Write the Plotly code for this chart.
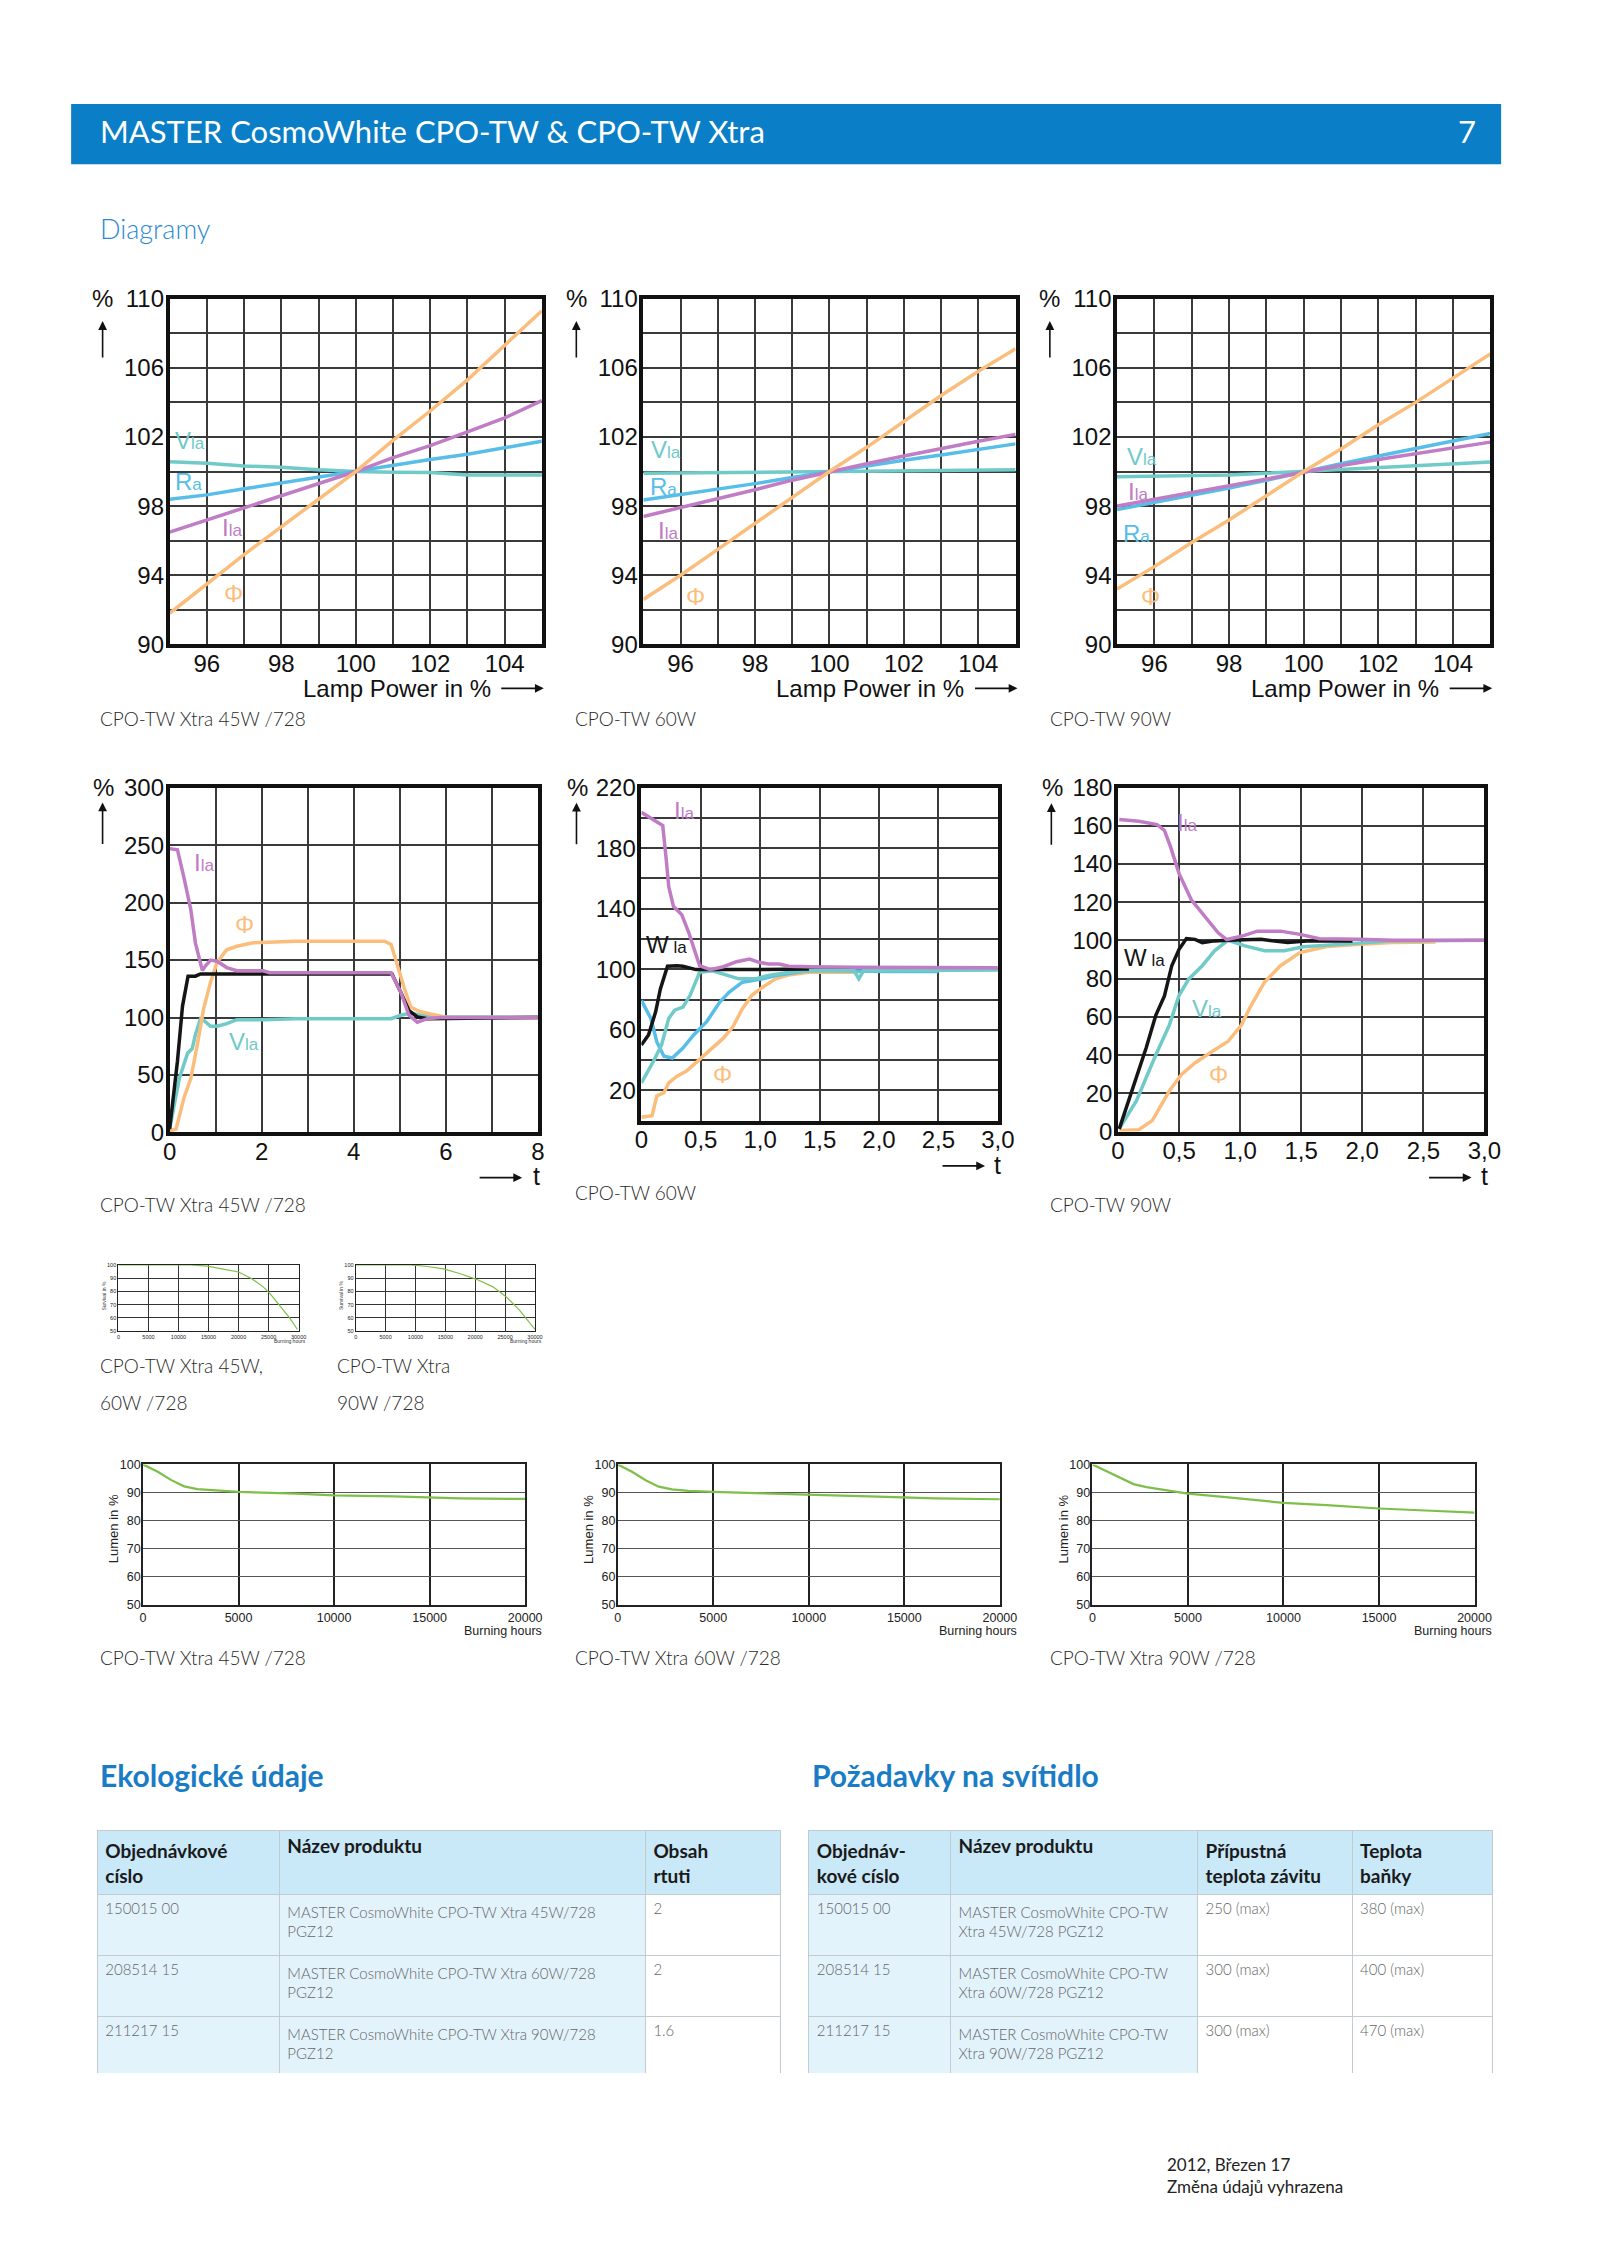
import plotly.graph_objects as go

# page is 1600 x 2263; the html body keeps its default 8px margin,
# so the figure itself is 1584 x 2247 placed at (8, 8)
PAGE_W, PAGE_H = 1600, 2263
OFF = 8
W, H = PAGE_W - 2 * OFF, PAGE_H - 2 * OFF

# ---------------- DATA ----------------
# Row 1: characteristic vs lamp power (%)
LP_X = [95, 96, 97, 98, 99, 100, 101, 102, 103, 104, 105]
LP45_PHI = [91.8, 93.5, 95.2, 96.8, 98.4, 100, 101.8, 103.5, 105.3, 107.3, 109.3]
LP45_ILA = [96.5, 97.2, 97.9, 98.6, 99.3, 100, 100.8, 101.5, 102.3, 103.1, 104.1]
LP45_RA = [98.4, 98.65, 99.0, 99.35, 99.7, 100, 100.35, 100.7, 101.0, 101.35, 101.75]
LP45_VLA = [100.57, 100.48, 100.32, 100.25, 100.1, 100, 99.96, 99.94, 99.8, 99.8, 99.8]

LP60_PHI = [92.6, 94.0, 95.5, 97.0, 98.5, 100, 101.4, 102.9, 104.4, 105.8, 107.1]
LP60_ILA = [97.4, 97.9, 98.45, 98.95, 99.5, 100, 100.45, 100.9, 101.35, 101.75, 102.15]
LP60_RA = [98.35, 98.65, 99.0, 99.3, 99.65, 100, 100.3, 100.65, 100.95, 101.25, 101.6]
LP60_VLA = [99.9, 99.92, 99.94, 99.96, 99.98, 100, 100.02, 100.04, 100.06, 100.08, 100.1]

LP90_PHI = [93.2, 94.5, 95.9, 97.2, 98.6, 100, 101.3, 102.7, 104.0, 105.4, 106.8]
LP90_ILA = [98.0, 98.4, 98.8, 99.2, 99.6, 100, 100.35, 100.7, 101.05, 101.4, 101.7]
LP90_RA = [97.8, 98.2, 98.6, 99.05, 99.5, 100, 100.45, 100.9, 101.35, 101.8, 102.2]
LP90_VLA = [99.7, 99.72, 99.75, 99.8, 99.9, 100, 100.1, 100.2, 100.3, 100.45, 100.55]

# Row 2: run-up behaviour vs time t
RU45_W_T = [0, 0.17, 0.28, 0.4, 0.56, 0.67, 2.0, 3.0, 4.0, 4.83, 5.02, 5.2, 5.38, 5.6, 8]
RU45_W = [3, 62, 110, 136, 136, 138, 138, 138, 138, 138, 122, 106, 100.5, 99, 100]
RU45_I_T = [0, 0.17, 0.31, 0.46, 0.56, 0.64, 0.71, 0.78, 0.89, 1.03, 1.24, 1.46, 2.03, 2.17,
            4.81, 5.02, 5.2, 5.38, 5.6, 5.88, 8]
RU45_I = [247, 246, 222, 194, 165, 151, 141, 145, 150, 149, 143.5, 140.7, 140.7, 139,
          139, 122, 102, 96, 99, 100, 100]
RU45_PHI_T = [0, 0.14, 0.31, 0.46, 0.6, 0.74, 0.89, 1.03, 1.24, 1.46, 1.81, 2.38, 2.74, 4.67,
              4.81, 4.95, 5.1, 5.24, 5.45, 5.74, 6.02, 8]
RU45_PHI = [1.4, 3, 30, 47, 76, 108, 131, 148, 159, 162, 165, 166, 166.5, 166.5,
            163.6, 145, 125, 109, 105, 102.5, 100, 100]
RU45_V_T = [0, 0.21, 0.39, 0.49, 0.56, 0.67, 0.74, 0.89, 1.03, 1.24, 1.46, 2.03, 2.74, 4.81,
            5.02, 5.24, 5.45, 5.95, 8]
RU45_V = [3, 47, 69, 73, 85, 99, 97.6, 92.4, 92.4, 94.7, 98.2, 98.2, 99, 99,
          102, 104, 102, 100.5, 100.5]

RU60_I_T = [0, 0.1, 0.18, 0.21, 0.23, 0.27, 0.34, 0.4, 0.45, 0.49, 0.58, 0.69, 0.8, 0.91, 0.99,
            1.07, 1.16, 1.24, 1.41, 1.79, 3.0]
RU60_I = [203.7, 199, 195, 172, 154.7, 141.6, 136, 124, 111, 102.4, 99.8, 101.7, 105, 106.8, 104.6,
          103.5, 103.5, 102, 101.7, 101.3, 101]
RU60_W_T = [0, 0.06, 0.12, 0.16, 0.22, 0.3, 0.35, 0.46, 0.96, 1.41]
RU60_W = [50, 56.6, 71.9, 87, 102, 102.4, 102, 99.8, 99.8, 100.2]
RU60_R_T = [0, 0.08, 0.13, 0.19, 0.26, 0.35, 0.44, 0.55, 0.66, 0.74, 0.85, 1.02, 1.13, 1.29,
            1.4, 1.52, 2.04, 2.5]
RU60_R = [79.5, 67.5, 52, 42.5, 41.4, 48, 56.6, 65.4, 78.4, 85, 91.5, 93.7, 95.9, 98,
          99.1, 99.3, 98.5, 98.5]
RU60_V_T = [0, 0.1, 0.17, 0.23, 0.28, 0.35, 0.41, 0.49, 0.6, 0.74, 0.82, 0.96, 1.07, 1.24,
            1.4, 1.79, 1.83, 1.87, 3.0]
RU60_V = [25, 39, 50, 67.5, 73, 75, 82.8, 98, 99, 95.9, 93.7, 93.7, 95.9, 98,
          99.1, 99.1, 93.7, 99.1, 99.5]
RU60_PHI_T = [0, 0.09, 0.13, 0.19, 0.23, 0.3, 0.38, 0.49, 0.6, 0.69, 0.77, 0.85, 0.93, 1.02,
              1.13, 1.24, 1.41, 1.79, 2.04, 3.0]
RU60_PHI = [2.2, 3.3, 16.3, 18.5, 25, 29.4, 32.7, 40.3, 47.9, 54.5, 62, 74, 82.8, 88.2,
            93.7, 96.3, 98, 98, 99.8, 99.8]

RU90_I_T = [0.01, 0.17, 0.32, 0.38, 0.43, 0.5, 0.6, 0.71, 0.82, 0.89, 1.01, 1.14, 1.33, 1.49,
            1.65, 1.98, 2.25, 3.0]
RU90_I = [163.3, 162.4, 160.7, 157.6, 149, 135, 121.3, 112.7, 104, 100.5, 102.2, 104.9, 104.9, 103.2,
          100.9, 100.6, 100.1, 100.1]
RU90_W_T = [0.01, 0.12, 0.23, 0.31, 0.38, 0.44, 0.5, 0.56, 0.63, 0.69, 0.79, 0.9, 1.17, 1.39, 1.57, 1.92]
RU90_W = [1.4, 23, 43.7, 61, 71, 86.8, 95.4, 101, 100.6, 98.9, 99.8, 100.1, 100.6, 98.9, 99.8, 99.8]
RU90_V_T = [0.01, 0.15, 0.31, 0.42, 0.5, 0.58, 0.69, 0.79, 0.9, 1.04, 1.2, 1.36, 1.52, 1.71,
            1.98, 2.25, 3.0]
RU90_V = [1.4, 16, 40.2, 55.7, 71.3, 79.9, 86.8, 94.6, 100.1, 97.2, 94.6, 94.6, 96.7, 97.5,
          98.9, 99.8, 100.1]
RU90_PHI_T = [0.01, 0.17, 0.28, 0.42, 0.52, 0.63, 0.77, 0.9, 1.01, 1.09, 1.2, 1.33, 1.49, 1.71,
              1.98, 2.25, 2.6]
RU90_PHI = [0.5, 0.9, 5.7, 21.2, 29.9, 35.9, 41.9, 47.1, 55.7, 66.1, 78.2, 86.8, 93.7, 96.8,
            98, 98.9, 99.2]

# Survival (small charts)
SURV1_H = [0, 12000, 14800, 17500, 20000, 22200, 24100, 25200, 26800, 28500, 29800]
SURV1 = [100, 100, 99, 97, 94.6, 89.6, 83.4, 78.5, 69.8, 59.9, 51.2]
SURV2_H = [0, 9200, 12000, 14700, 17500, 20200, 22970, 25160, 27360, 30000]
SURV2 = [100, 100, 98.8, 97, 93.3, 89.1, 83.4, 76, 66, 51.2]

# Lumen maintenance
LUM_H = [0, 770, 1460, 2150, 2840, 3700, 5000, 8000, 10000, 13150, 14900, 16600, 20000]
LUM45 = [100, 97.4, 94.5, 92.2, 91.2, 90.7, 90.2, 89.6, 89.0, 88.6, 88.3, 87.9, 87.7]
LUM60 = [100, 97.3, 94.4, 92.1, 91.1, 90.6, 90.2, 89.6, 89.0, 88.6, 88.3, 87.9, 87.6]
LUM90_H = [0, 770, 1460, 2150, 2830, 4030, 5000, 7120, 10000, 12270, 15000, 17420, 20000]
LUM90 = [100, 97.4, 95.1, 93.0, 91.9, 90.6, 89.6, 88.3, 86.3, 85.5, 84.3, 83.6, 82.8]

# Tick labels
LP_TICKS = [96, 98, 100, 102, 104]
LP_YTICKS = [90, 94, 98, 102, 106, 110]
T8_TICKS = [0, 2, 4, 6, 8]
T3_TICKS = [0, 0.5, 1.0, 1.5, 2.0, 2.5, 3.0]
T3_TEXT = ["0", "0,5", "1,0", "1,5", "2,0", "2,5", "3,0"]
Y300_TICKS = [0, 50, 100, 150, 200, 250, 300]
Y220_TICKS = [20, 60, 100, 140, 180, 220]
Y180_TICKS = [0, 20, 40, 60, 80, 100, 120, 140, 160, 180]
SURV_XTICKS = [0, 5000, 10000, 15000, 20000, 25000, 30000]
SURV_XTEXT = ["0", "5000", "10000", "15000", "20000", "25000", "30000"]
LUM_XTICKS = [0, 5000, 10000, 15000, 20000]
LUM_XTEXT = ["0", "5000", "10000", "15000", "20000"]
PCT_YTICKS = [50, 60, 70, 80, 90, 100]

# Tables
T1_HEAD = ["Objednávkové<br>císlo", "Název produktu", "Obsah<br>rtuti"]
T1_CODE = ["150015 00", "208514 15", "211217 15"]
T1_NAME = ["MASTER CosmoWhite CPO-TW Xtra 45W/728<br>PGZ12",
           "MASTER CosmoWhite CPO-TW Xtra 60W/728<br>PGZ12",
           "MASTER CosmoWhite CPO-TW Xtra 90W/728<br>PGZ12"]
T1_HG = ["2", "2", "1.6"]
T2_HEAD = ["Objednáv-<br>kové císlo", "Název produktu", "Přípustná<br>teplota závitu", "Teplota<br>baňky"]
T2_NAME = ["MASTER CosmoWhite CPO-TW<br>Xtra 45W/728 PGZ12",
           "MASTER CosmoWhite CPO-TW<br>Xtra 60W/728 PGZ12",
           "MASTER CosmoWhite CPO-TW<br>Xtra 90W/728 PGZ12"]
T2_CAP = ["250 (max)", "300 (max)", "300 (max)"]
T2_BULB = ["380 (max)", "400 (max)", "470 (max)"]

# ---------------- STYLE ----------------
C_PHI = "#fbbd7c"
C_ILA = "#c07cc4"
C_RA = "#57bde9"
C_VLA = "#6fcac8"
C_W = "#151515"
C_GREEN = "#7dbf48"
C_BLUE = "#0a7ec6"
ARIAL = "Liberation Sans"
GILL = "Lato"


def fx(a):
    return (a - OFF) / W


def fy(b):
    return 1 - (b - OFF) / H


def px_x(a, b):
    return [fx(a), fx(b)]


def px_y(top, bottom):
    return [fy(bottom), fy(top)]


def xr(n):
    return "x" if n == 1 else f"x{n}"


def yr(n):
    return "y" if n == 1 else f"y{n}"


fig = go.Figure()
layout = {}
annotations = []


def add_axes(n, xdom, ydom, xcfg, ycfg):
    xs = "xaxis" if n == 1 else f"xaxis{n}"
    ys = "yaxis" if n == 1 else f"yaxis{n}"
    base = dict(showline=True, mirror=True, zeroline=False, ticks="", showgrid=True,
                exponentformat="none", separatethousands=False)
    xd = dict(base, domain=xdom, anchor=yr(n))
    xd.update(xcfg)
    yd = dict(base, domain=ydom, anchor=xr(n))
    yd.update(ycfg)
    layout[xs] = xd
    layout[ys] = yd


def big_axis(rng, tickvals, minor_dtick, ticktext=None, standoff=-5):
    d = dict(range=rng, tickmode="array", tickvals=tickvals,
             linecolor="#111", linewidth=3.5, gridcolor="#3a3a3a", gridwidth=1.6,
             ticklabelstandoff=standoff,
             tickfont=dict(family=ARIAL, size=24, color="#111"),
             minor=dict(tickmode="linear", tick0=rng[0], dtick=minor_dtick, showgrid=True,
                        gridcolor="#3a3a3a", gridwidth=1.6, ticks=""))
    if ticktext is not None:
        d["ticktext"] = ticktext
    return d


def line(n, x, y, color, width=3.5):
    fig.add_trace(go.Scatter(x=x, y=y, mode="lines", line=dict(color=color, width=width),
                             xaxis=xr(n), yaxis=yr(n), hoverinfo="skip"))


def sub(main, small):
    return f"{main}<span style='font-size:17px'>{small}</span>"


def label(n, text, x, y, color, size=24):
    annotations.append(dict(text=text, x=x, y=y, xref=xr(n), yref=yr(n), showarrow=False,
                            xanchor="left", yanchor="middle",
                            font=dict(family=ARIAL, size=size, color=color)))


def pct_arrow(n, xfrac, yfrac, arrow_x, head_y, tail):
    annotations.append(dict(text="%", x=xfrac, y=yfrac, xref=xr(n) + " domain", yref=yr(n) + " domain",
                            showarrow=False, xanchor="center", yanchor="middle",
                            font=dict(family=ARIAL, size=24, color="#111")))
    annotations.append(dict(text="", x=arrow_x, y=head_y, xref=xr(n) + " domain",
                            yref=yr(n) + " domain",
                            showarrow=True, ax=0, ay=tail, arrowhead=2, arrowsize=1.1,
                            arrowwidth=1.6, arrowcolor="#111"))


def caption(text, x, y, size=19):
    annotations.append(dict(text=text, x=fx(x), y=fy(y), xref="paper", yref="paper",
                            showarrow=False, xanchor="left", yanchor="middle",
                            font=dict(family=GILL, size=size, color="#2a2a2a", weight=300)))


def page_text(text, x, y, size, color, weight=400, anchor="left"):
    annotations.append(dict(text=text, x=fx(x), y=fy(y), xref="paper", yref="paper",
                            showarrow=False, xanchor=anchor, yanchor="middle",
                            font=dict(family=GILL, size=size, color=color, weight=weight)))


# ---------------- ROW 1 ----------------
row1 = [
    (1, (165, 543), (LP45_PHI, LP45_ILA, LP45_RA, LP45_VLA),
     [("V", "la", 95.1, 101.8, C_VLA), ("R", "a", 95.1, 99.4, C_RA), ("I", "la", 96.35, 96.75, C_ILA),
      ("Φ", "", 96.4, 92.95, C_PHI)], "CPO-TW Xtra 45W /728", 92),
    (2, (646, 1024), (LP60_PHI, LP60_ILA, LP60_RA, LP60_VLA),
     [("V", "la", 95.15, 101.25, C_VLA), ("R", "a", 95.12, 99.15, C_RA), ("I", "la", 95.35, 96.6, C_ILA),
      ("Φ", "", 96.1, 92.75, C_PHI)], "CPO-TW 60W", 575),
    (3, (1127, 1506), (LP90_PHI, LP90_ILA, LP90_RA, LP90_VLA),
     [("V", "la", 95.2, 100.85, C_VLA), ("I", "la", 95.25, 98.85, C_ILA), ("R", "a", 95.1, 96.4, C_RA),
      ("Φ", "", 95.6, 92.75, C_PHI)], "CPO-TW 90W", 1057),
]
for n, (xa, xb), (phi, ila, ra, vla), labs, cap, capx in row1:
    add_axes(n, px_x(xa, xb), px_y(288, 638),
             big_axis([95, 105], LP_TICKS, 1), big_axis([90, 110], LP_YTICKS, 2, standoff=-3))
    line(n, LP_X, vla, C_VLA)
    line(n, LP_X, ra, C_RA)
    line(n, LP_X, ila, C_ILA)
    line(n, LP_X, phi, C_PHI)
    for big, small, x, y, c in labs:
        label(n, sub(big, small) if small else big, x, y, c)
    pct_arrow(n, -0.18, 1.0, -0.18, 0.935, 38)
    annotations.append(dict(text="Lamp Power in %", x=0.868, y=-0.127, xref=xr(n) + " domain",
                            yref=yr(n) + " domain", showarrow=False, xanchor="right", yanchor="middle",
                            font=dict(family=ARIAL, size=24, color="#111")))
    annotations.append(dict(text="", x=1.005, y=-0.127, xref=xr(n) + " domain", yref=yr(n) + " domain",
                            showarrow=True, ax=-44, ay=0, arrowhead=2, arrowsize=1.1,
                            arrowwidth=1.6, arrowcolor="#111"))
    caption(cap, capx, 713)

# ---------------- ROW 2 ----------------
# chart 4 : 45W
add_axes(4, px_x(165, 539), px_y(783, 1132),
         big_axis([0, 8], T8_TICKS, 1), big_axis([0, 300], Y300_TICKS, 50, standoff=-3))
line(4, RU45_V_T, RU45_V, C_VLA)
line(4, RU45_PHI_T, RU45_PHI, C_PHI)
line(4, RU45_W_T, RU45_W, C_W)
line(4, RU45_I_T, RU45_I, C_ILA)
label(4, sub("I", "la"), 0.49, 235, C_ILA)
label(4, "Φ", 1.38, 181, C_PHI)
label(4, sub("W", " la"), -0.75, 128, C_W)
label(4, sub("V", "la"), 1.24, 79, C_VLA)

# chart 5 : 60W
add_axes(5, px_x(644, 1006), px_y(783, 1120),
         big_axis([0, 3], T3_TICKS, 0.5, T3_TEXT), big_axis([0, 220], Y220_TICKS, 20, standoff=-3))
line(5, RU60_PHI_T, RU60_PHI, C_PHI)
line(5, RU60_R_T, RU60_R, C_RA)
line(5, RU60_V_T, RU60_V, C_VLA)
line(5, RU60_W_T, RU60_W, C_W)
line(5, RU60_I_T, RU60_I, C_ILA)
label(5, sub("I", "la"), 0.26, 204.6, C_ILA)
label(5, sub("W", " la"), 0.02, 116.6, C_W)
label(5, sub("R", "a"), -0.23, 82.8, C_RA)
label(5, sub("V", "la"), -0.23, 39.2, C_VLA)
label(5, "Φ", 0.59, 30.5, C_PHI)

# chart 6 : 90W
add_axes(6, px_x(1128, 1500), px_y(783, 1131),
         big_axis([0, 3], T3_TICKS, 0.5, T3_TEXT), big_axis([0, 180], Y180_TICKS, 20, standoff=-3))
line(6, RU90_PHI_T, RU90_PHI, C_PHI)
line(6, RU90_V_T, RU90_V, C_VLA)
line(6, RU90_W_T, RU90_W, C_W)
line(6, RU90_I_T, RU90_I, C_ILA)
label(6, sub("I", "la"), 0.47, 161.9, C_ILA)
label(6, sub("W", " la"), 0.03, 91.1, C_W)
label(6, sub("V", "la"), 0.59, 64.4, C_VLA)
label(6, "Φ", 0.73, 29.9, C_PHI)

for n, headx, tx, ay_y, t_y, head_y in [(4, 0.957, 0.996, -0.131, -0.126, 0.957),
                                         (5, 0.964, 1.0, -0.136, -0.133, 0.955),
                                         (6, 0.965, 0.999, -0.134, -0.129, 0.955)]:
    pct_arrow(n, -0.18, 1.0, -0.182, head_y, 43)
    annotations.append(dict(text="", x=headx, y=ay_y, xref=xr(n) + " domain", yref=yr(n) + " domain",
                            showarrow=True, ax=-44, ay=0, arrowhead=2, arrowsize=1.1,
                            arrowwidth=1.6, arrowcolor="#111"))
    annotations.append(dict(text="t", x=tx, y=t_y, xref=xr(n) + " domain", yref=yr(n) + " domain",
                            showarrow=False, xanchor="center", yanchor="middle",
                            font=dict(family=ARIAL, size=25, color="#111")))
caption("CPO-TW Xtra 45W /728", 92, 1205)
caption("CPO-TW 60W", 575, 1193)
caption("CPO-TW 90W", 1057, 1205)


# ---------------- SURVIVAL ----------------
def small_axis(rng, tickvals, size, grid="#333", gw=1, lw=1.2, standoff=0, ticktext=None):
    d = dict(range=rng, tickmode="array", tickvals=tickvals, linecolor="#222", linewidth=lw,
             gridcolor=grid, gridwidth=gw, ticklabelstandoff=standoff,
             tickfont=dict(family=ARIAL, size=size, color="#222"))
    if ticktext is not None:
        d["ticktext"] = ticktext
    return d


for n, (xa, xb), hx, hy in [(7, (113, 296), SURV1_H, SURV1), (8, (354, 536), SURV2_H, SURV2)]:
    add_axes(n, px_x(xa, xb), px_y(1266, 1333),
             small_axis([0, 30000], SURV_XTICKS, 5.5, ticktext=SURV_XTEXT),
             small_axis([50, 100], PCT_YTICKS, 5.5))
    line(n, hx, hy, C_GREEN, 1.2)
    annotations.append(dict(text="Survival in %", x=-0.11, y=0.78, xref=xr(n) + " domain",
                            yref=yr(n) + " domain", showarrow=False, textangle=-90,
                            font=dict(family=ARIAL, size=5, color="#333")))
    annotations.append(dict(text="Burning hours", x=1.05, y=-0.22, xref=xr(n) + " domain",
                            yref=yr(n) + " domain", showarrow=False, xanchor="right",
                            font=dict(family=ARIAL, size=5, color="#333")))
caption("CPO-TW Xtra 45W,", 92, 1368)
caption("60W /728", 92, 1405)
caption("CPO-TW Xtra", 333, 1368)
caption("90W /728", 333, 1405)

# ---------------- LUMEN ----------------
for n, (xa, xb), hx, hy, cap, capx in [(9, (138, 526), LUM_H, LUM45, "CPO-TW Xtra 45W /728", 92),
                                        (10, (620, 1008), LUM_H, LUM60, "CPO-TW Xtra 60W /728", 575),
                                        (11, (1102, 1490), LUM90_H, LUM90, "CPO-TW Xtra 90W /728", 1057)]:
    xa_cfg = small_axis([0, 20000], LUM_XTICKS, 12.5, grid="#222", gw=1.6, lw=1.6, ticktext=LUM_XTEXT)
    ya_cfg = small_axis([50, 100], PCT_YTICKS, 12.5, grid="#555", gw=1, lw=1.6, standoff=-2)
    add_axes(n, px_x(xa, xb), px_y(1468, 1610), xa_cfg, ya_cfg)
    line(n, hx, hy, C_GREEN, 2.2)
    annotations.append(dict(text="Lumen in %", x=-0.103, y=0.8, xref=xr(n) + " domain",
                            yref=yr(n) + " domain", showarrow=False, textangle=-90,
                            font=dict(family=ARIAL, size=13, color="#222")))
    annotations.append(dict(text="Burning hours", x=1.05, y=-0.19, xref=xr(n) + " domain",
                            yref=yr(n) + " domain", showarrow=False, xanchor="right", yanchor="middle",
                            font=dict(family=ARIAL, size=12.5, color="#222")))
    caption(cap, capx, 1663)

# ---------------- TABLES ----------------
HEAD_FILL = "#c9e8f8"
BODY_FILL = "#e3f3fc"
LINE_C = "#c3cbd1"

fig.add_trace(go.Table(
    domain=dict(x=px_x(91.5, 786), y=px_y(1839, 2084)),
    columnwidth=[185, 372, 137],
    header=dict(values=T1_HEAD, fill_color=HEAD_FILL, align="left", height=60,
                line=dict(color=LINE_C, width=1),
                font=dict(family=GILL, size=19, color="#1a1a1a", weight=700)),
    cells=dict(values=[T1_CODE, T1_NAME, T1_HG], fill_color=[BODY_FILL, BODY_FILL, "white"],
               align="left", height=61, line=dict(color=LINE_C, width=1),
               font=dict(family=GILL, size=15, color="#666", weight=300)),
))
fig.add_trace(go.Table(
    domain=dict(x=px_x(814, 1509), y=px_y(1839, 2084)),
    columnwidth=[144, 251, 157, 143],
    header=dict(values=T2_HEAD, fill_color=HEAD_FILL, align="left", height=60,
                line=dict(color=LINE_C, width=1),
                font=dict(family=GILL, size=19, color="#1a1a1a", weight=700)),
    cells=dict(values=[T1_CODE, T2_NAME, T2_CAP, T2_BULB],
               fill_color=[BODY_FILL, BODY_FILL, "white", "white"],
               align="left", height=61, line=dict(color=LINE_C, width=1),
               font=dict(family=GILL, size=15, color="#666", weight=300)),
))

# ---------------- PAGE TEXT ----------------
shapes = [dict(type="rect", xref="paper", yref="paper", x0=fx(65), x1=fx(1517),
               y0=fy(152), y1=fy(91), fillcolor=C_BLUE, line=dict(width=0), layer="below")]
page_text("MASTER CosmoWhite CPO-TW &amp; CPO-TW Xtra", 92, 118, 31, "white")
page_text("7", 1482, 118, 31, "white", anchor="center")
page_text("Diagramy", 92, 217, 27, "#2b8ad0", weight=300)
page_text("Ekologické údaje", 92, 1782, 30, "#1a7cc5", weight=700)
page_text("Požadavky na svítidlo", 815, 1782, 30, "#1a7cc5", weight=700)
page_text("2012, Březen 17", 1176, 2177, 17, "#222")
page_text("Změna údajů vyhrazena", 1176, 2199, 17, "#222")

fig.update_layout(width=W, height=H, margin=dict(l=0, r=0, t=0, b=0),
                  paper_bgcolor="white", plot_bgcolor="white", showlegend=False,
                  font=dict(family=ARIAL), annotations=annotations, shapes=shapes, **layout)

fig.write_html("out.html", config={"displayModeBar": False})
